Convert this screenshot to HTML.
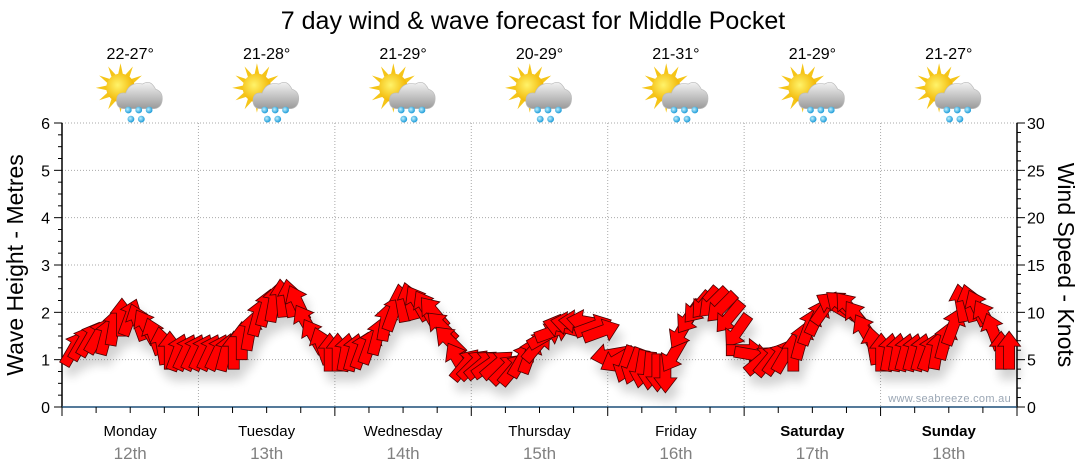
<!DOCTYPE html>
<html><head><meta charset="utf-8"><style>
body{margin:0;background:#fff;}
svg{display:block;font-family:"Liberation Sans","DejaVu Sans",sans-serif;}
</style></head><body>
<svg id="chart" width="1080" height="475" viewBox="0 0 1080 475" xmlns="http://www.w3.org/2000/svg">
<defs>
<filter id="sh" x="-50%" y="-50%" width="200%" height="200%"><feGaussianBlur in="SourceAlpha" stdDeviation="5"/><feOffset dx="4" dy="10"/><feComponentTransfer><feFuncA type="linear" slope="0.18"/></feComponentTransfer><feMerge><feMergeNode/><feMergeNode in="SourceGraphic"/></feMerge></filter>
<radialGradient id="sun" cx="0.4" cy="0.4" r="0.6"><stop offset="0" stop-color="#fff36a"/><stop offset="1" stop-color="#f2b400"/></radialGradient>
<linearGradient id="cloud" x1="0" y1="0" x2="0" y2="1"><stop offset="0" stop-color="#f2f2f2"/><stop offset="1" stop-color="#9a9a9a"/></linearGradient>
<radialGradient id="drop" cx="0.4" cy="0.4" r="0.6"><stop offset="0" stop-color="#bff0ff"/><stop offset="1" stop-color="#1c9bd8"/></radialGradient>
</defs>
<text x="533" y="29" font-size="25" text-anchor="middle" fill="#000">7 day wind &amp; wave forecast for Middle Pocket</text>
<g id="grid"></g>
<g id="axes"></g>
<g id="icons"></g>
<g id="arrows" filter="url(#sh)"></g>
<g>
<rect x="888" y="389" width="127" height="16" fill="#fff" opacity="0.8"/>
<text x="1011" y="402" font-size="11" text-anchor="end" fill="#9aa6b4" letter-spacing="0.3">www.seabreeze.com.au</text>
</g>
<text transform="translate(23,265) rotate(-90)" font-size="23" text-anchor="middle">Wave Height - Metres</text>
<text transform="translate(1058,265) rotate(90)" font-size="23" text-anchor="middle">Wind Speed - Knots</text>
</svg>
<script>
const days = ["Monday","Tuesday","Wednesday","Thursday","Friday","Saturday","Sunday"];
const dates = ["12th","13th","14th","15th","16th","17th","18th"];
const temps = ["22-27°","21-28°","21-29°","20-29°","21-31°","21-29°","21-27°"];
const boldDays = [false,false,false,false,false,true,true];
const waveTicks = [0,1,2,3,4,5,6];
const windTicks = [0,5,10,15,20,25,30];
const windSpeed = [6.2,6.8,7.2,7.5,7.5,8.5,9.5,9.5,9.0,8.5,7.5,6.5,6.0,5.8,5.8,5.8,
 5.8,5.8,5.8,5.8,6.0,7.0,8.0,9.5,10.5,11.0,11.5,11.5,11.0,9.0,7.5,6.5,5.8,
 5.8,5.8,5.8,6.0,6.5,7.5,9.0,10.0,11.0,11.2,11.0,10.5,10.0,8.5,7.0,5.0,4.5,
 4.5,4.5,4.5,4.5,4.0,4.0,5.0,5.5,6.5,7.5,8.0,8.5,8.8,9.0,9.0,8.5,8.0,
 5.5,5.0,4.5,4.3,4.0,3.8,3.6,3.5,5.5,8.0,9.5,10.5,11.0,11.0,10.5,9.5,8.0,
 6.0,5.5,5.0,5.0,5.2,5.5,5.8,7.0,8.5,9.5,10.5,10.8,10.8,10.5,9.5,8.0,6.5,
 5.8,5.8,5.8,5.8,5.8,5.8,5.8,6.0,7.0,8.5,11.0,11.0,10.5,9.5,8.0,6.0,6.0];
const windDir = [30,30,30,30,15,10,0,20,-20,-30,-20,-10,0,20,25,25,
 25,25,25,15,0,0,10,15,15,10,-5,-10,-25,-30,-30,-20,0,
 0,10,15,20,20,15,10,20,-10,-15,-30,-30,-40,-45,-45,-30,40,
 45,50,55,50,45,40,30,20,40,60,70,-75,-80,-85,-80,70,70,
 -100,-120,200,200,190,185,180,180,210,210,215,220,220,225,225,220,215,
 90,100,50,40,35,30,0,15,20,25,35,-60,-50,-40,-35,-30,-10,
 0,10,10,15,15,15,20,10,15,20,-10,-15,-25,-30,-20,0,0];
const startHour = 2.1, stepHours = 1.406;

const NS="http://www.w3.org/2000/svg";
const X0=62,X1=1017,Y0=407,Y1=123;
const dayW=(X1-X0)/7;
const xHour=h=>X0+h/24*dayW;
const yWave=v=>Y0-v/6*(Y0-Y1);
const yWind=v=>Y0-v/30*(Y0-Y1);
function mk(tag,attrs,parent){const e=document.createElementNS(NS,tag);for(const k in attrs)e.setAttribute(k,attrs[k]);parent.appendChild(e);return e;}
const grid=document.getElementById('grid'),axes=document.getElementById('axes'),icons=document.getElementById('icons'),arrows=document.getElementById('arrows');
waveTicks.forEach(v=>{if(v>0){const l=mk('line',{x1:X0,x2:X1,y1:yWave(v),y2:yWave(v),stroke:'#aaa','stroke-dasharray':'1,2'},grid);

}});
for(let d=1;d<7;d++){const l=mk('line',{x1:X0+d*dayW,x2:X0+d*dayW,y1:Y1,y2:Y0,stroke:'#aaa','stroke-dasharray':'1,2'},grid);

}
mk('line',{x1:X0,x2:X0,y1:Y1,y2:Y0,stroke:'#000','stroke-width':1.5},axes);
mk('line',{x1:X1,x2:X1,y1:Y1,y2:Y0,stroke:'#000','stroke-width':1.5},axes);
const xa=mk('line',{x1:X0,x2:X1,y1:Y0,y2:Y0,stroke:'#1d4f78','stroke-width':1.5},axes);


for(let v=0;v<=24;v++){const y=yWave(v/4);mk('line',{x1:X0-(v%4==0?8:4),x2:X0,y1:y,y2:y,stroke:'#000'},axes);}
for(let v=0;v<=30;v++){const y=yWind(v);mk('line',{x1:X1,x2:X1+(v%5==0?8:4),y1:y,y2:y,stroke:'#000'},axes);}
for(let q=0;q<=28;q++){const x=X0+q*dayW/4;mk('line',{x1:x,x2:x,y1:Y0,y2:Y0+(q%4==0?9:6),stroke:'#000'},axes);}
waveTicks.forEach(v=>{const t=mk('text',{x:50,y:yWave(v)+6,'font-size':16,'text-anchor':'end'},axes);t.textContent=v;

});
windTicks.forEach(v=>{const t=mk('text',{x:1027,y:yWind(v)+6,'font-size':16},axes);t.textContent=v;

});
days.forEach((d,i)=>{const cx=X0+(i+0.5)*dayW;
const t=mk('text',{x:cx,y:436,'font-size':15,'text-anchor':'middle','font-weight':boldDays[i]?'bold':'normal'},axes);t.textContent=d;


const t2=mk('text',{x:cx,y:459,'font-size':17,'text-anchor':'middle',fill:'#808080'},axes);t2.textContent=dates[i];


const t3=mk('text',{x:cx,y:59,'font-size':16,'text-anchor':'middle'},icons);t3.textContent=temps[i];


const g0=mk('g',{transform:`translate(${cx+2},0)`},icons);


const g=mk('g',{transform:'translate(0,97) scale(1.3) translate(0,-97)'},g0);
for(let r=0;r<12;r++){const a=r*30*Math.PI/180;mk('polygon',{points:`${-9+Math.cos(a)*19},${90+Math.sin(a)*19} ${-9+Math.cos(a+0.25)*9},${90+Math.sin(a+0.25)*9} ${-9+Math.cos(a-0.25)*9},${90+Math.sin(a-0.25)*9}`,fill:'#f5c518'},g);}
mk('circle',{cx:-9,cy:90,r:11,fill:'url(#sun)'},g);
mk('path',{d:'M-6,106 Q-12,106 -12,100 Q-12,93 -5,94 Q-2,85 8,87 Q14,83 18,91 Q24,93 23,100 Q22,106 16,106 Z',fill:'url(#cloud)',stroke:'#bbb','stroke-width':0.5},g);
[[-3,107],[5,107],[13,107],[-1,114],[7,114]].forEach(p=>mk('circle',{cx:p[0],cy:p[1],r:2.6,fill:'url(#drop)'},g));
});
windSpeed.forEach((s,i)=>{const h=startHour+i*stepHours;const x=xHour(h),y=yWind(s);
const p=mk('polygon',{points:'-5.5,19 5.5,19 5.5,-4 11.5,-4 0,-19 -11.5,-4 -5.5,-4',fill:'#ff0000',stroke:'#4a0000','stroke-width':0.8,transform:`translate(${x.toFixed(1)},${y.toFixed(1)}) rotate(${windDir[i]})`},arrows);

});
</script>
</body></html>
